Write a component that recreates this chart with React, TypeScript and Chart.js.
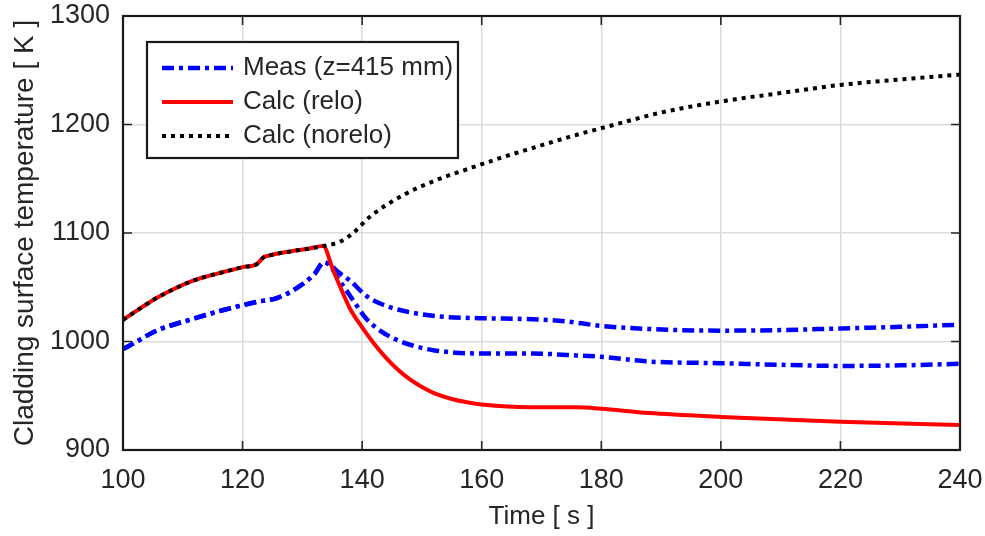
import React, { useEffect, useRef } from "react";
import { Chart, registerables } from "chart.js";

Chart.register(...registerables);

// ---- data ----
const measUpperTime = [100, 102, 105.6, 111.2, 116.8, 122.4, 125.7, 129, 132, 133.6, 134.6, 136, 138, 140.7, 143, 146.3, 150, 153, 159.7, 168.6, 174.2, 179.8, 188.1, 199.8, 210, 219.9, 230, 240];
const measUpperTemp = [993, 999, 1010, 1020, 1029, 1036.5, 1040, 1049, 1062, 1073, 1071, 1064, 1056, 1042, 1035, 1029, 1025, 1023, 1021.5, 1020.5, 1018.5, 1014.5, 1011.5, 1010, 1010.5, 1012, 1013.5, 1015.5];

const measLowerTime = [100, 102, 105.6, 111.2, 116.8, 122.4, 125.7, 129, 132, 133.6, 134.6, 136, 138, 140.7, 143, 145.2, 148, 151.9, 159.7, 168.6, 174.2, 179.8, 188.1, 199.8, 210, 219.9, 230, 240];
const measLowerTemp = [993, 999, 1010, 1020, 1029, 1036.5, 1040, 1049, 1062, 1073, 1070, 1058, 1042, 1021, 1010, 1003, 997, 992, 989, 989, 987.6, 986, 981.5, 980, 978.5, 977.5, 978, 979.5];

const reloTime = [100, 103, 105.6, 108, 111.2, 114, 116.8, 120, 122.4, 123.5, 125, 128, 131, 133.5, 135, 136.5, 138, 140, 142, 144, 146, 148, 150, 152, 155, 158, 160, 168, 176, 180, 188, 200, 220, 240];
const reloTemp = [1020, 1031, 1040, 1047, 1055, 1060, 1064, 1068.5, 1071.5, 1077.5, 1080, 1083, 1085.5, 1088, 1068, 1048, 1030, 1013, 998, 985, 974, 965, 958, 952.5, 947, 943.5, 942, 939.5, 939.5, 938, 934, 930.5, 926, 923];

const noreloTime = [100, 103, 105.6, 108, 111.2, 114, 116.8, 120, 122.4, 123.5, 125, 128, 131, 133.5, 136.3, 138.5, 141.3, 146.9, 152.5, 158, 163.6, 169.2, 174.8, 182, 190, 199.8, 210, 219.9, 230, 240];
const noreloTemp = [1020, 1031, 1040, 1047, 1055, 1060, 1064, 1068.5, 1071.5, 1077.5, 1080, 1083, 1085.5, 1088, 1092, 1100, 1115, 1135, 1149, 1159.6, 1170, 1179.5, 1188.8, 1199.5, 1211, 1221, 1229, 1236.4, 1241.5, 1246];

const xTickValues = [100, 120, 140, 160, 180, 200, 220, 240];
const yTickValues = [900, 1000, 1100, 1200, 1300];

const legendLabels = ["Meas (z=415 mm)", "Calc (relo)", "Calc (norelo)"];

const FONT = '"Liberation Sans", Arial, Helvetica, sans-serif';
const TEXT = "#262626";

const toPts = (t: number[], v: number[]) => t.map((x, i) => ({ x, y: v[i] }));

const frameTicksPlugin = {
  id: "frameTicks",
  beforeDatasetsDraw(chart: any) {
    const { ctx, chartArea } = chart;
    const { left, right, top, bottom } = chartArea;
    const xs = chart.scales.x;
    const ys = chart.scales.y;
    const len = 9;
    ctx.save();
    ctx.strokeStyle = TEXT;
    ctx.lineWidth = 1.6;
    ctx.beginPath();
    xTickValues.forEach((v) => {
      const px = xs.getPixelForValue(v);
      ctx.moveTo(px, bottom);
      ctx.lineTo(px, bottom - len);
      ctx.moveTo(px, top);
      ctx.lineTo(px, top + len);
    });
    yTickValues.forEach((v) => {
      const py = ys.getPixelForValue(v);
      ctx.moveTo(left, py);
      ctx.lineTo(left + len, py);
      ctx.moveTo(right, py);
      ctx.lineTo(right - len, py);
    });
    ctx.stroke();
    ctx.restore();
  },
  afterDatasetsDraw(chart: any) {
    const { ctx, chartArea } = chart;
    const { left, right, top, bottom } = chartArea;
    ctx.save();
    ctx.strokeStyle = "#1a1a1a";
    ctx.lineWidth = 2.2;
    ctx.strokeRect(left, top, right - left, bottom - top);
    ctx.restore();
  },
};

const legendPlugin = {
  id: "boxLegend",
  afterDraw(chart: any) {
    const { ctx } = chart;
    const boxL = 147, boxT = 42, boxW = 311, boxH = 116;
    const rows = [68, 102, 136];
    const ds = [chart.data.datasets[0], chart.data.datasets[2], chart.data.datasets[3]];
    ctx.save();
    ctx.fillStyle = "#ffffff";
    ctx.fillRect(boxL, boxT, boxW, boxH);
    ctx.strokeStyle = "#1a1a1a";
    ctx.lineWidth = 2.2;
    ctx.strokeRect(boxL, boxT, boxW, boxH);
    ds.forEach((d: any, i: number) => {
      ctx.save();
      ctx.strokeStyle = d.borderColor;
      ctx.lineWidth = d.borderWidth;
      ctx.setLineDash(d.borderDash || []);
      ctx.beginPath();
      ctx.moveTo(162, rows[i]);
      ctx.lineTo(233, rows[i]);
      ctx.stroke();
      ctx.restore();
      ctx.fillStyle = TEXT;
      ctx.font = `26px ${FONT}`;
      ctx.textBaseline = "middle";
      ctx.textAlign = "left";
      ctx.fillText(legendLabels[i], 243, rows[i]);
    });
    ctx.restore();
  },
};

export default function App() {
  const ref = useRef<HTMLCanvasElement | null>(null);
  useEffect(() => {
    if (!ref.current) return;
    const measStyle = {
      borderColor: "#0000ff",
      borderWidth: 4.5,
      borderDash: [12, 5, 4, 5],
      pointRadius: 0,
      fill: false,
      cubicInterpolationMode: "monotone" as const,
    };
    const chart = new Chart(ref.current, {
      type: "line",
      data: {
        datasets: [
          { label: legendLabels[0], data: toPts(measUpperTime, measUpperTemp), ...measStyle, order: 2 },
          { label: "", data: toPts(measLowerTime, measLowerTemp), ...measStyle, order: 3 },
          {
            label: legendLabels[1],
            data: toPts(reloTime, reloTemp),
            borderColor: "#ff0000",
            borderWidth: 4,
            pointRadius: 0,
            fill: false,
            cubicInterpolationMode: "monotone",
            order: 1,
          },
          {
            label: legendLabels[2],
            data: toPts(noreloTime, noreloTemp),
            borderColor: "#000000",
            borderWidth: 4,
            borderDash: [4, 5],
            pointRadius: 0,
            fill: false,
            cubicInterpolationMode: "monotone",
            order: 0,
          },
        ],
      },
      options: {
        animation: false,
        responsive: false,
        devicePixelRatio: 1,
        layout: { padding: { top: 16, right: 25, left: 0, bottom: 0 } },
        plugins: { legend: { display: false }, tooltip: { enabled: false } },
        scales: {
          x: {
            type: "linear",
            min: 100,
            max: 240,
            afterBuildTicks: (s: any) => {
              s.ticks = xTickValues.map((v) => ({ value: v }));
            },
            afterFit: (s: any) => {
              s.height = 86;
              s.paddingLeft = 0;
              s.paddingRight = 0;
              s.paddingTop = 0;
              s.paddingBottom = 0;
            },
            ticks: {
              color: TEXT,
              font: { family: FONT, size: 27 },
              padding: 14,
              maxRotation: 0,
              callback: (v: any) => String(v),
            },
            grid: { color: "#dcdcdc", lineWidth: 1.5, drawTicks: false },
            border: { display: false },
            title: {
              display: true,
              text: "Time [ s ]",
              color: TEXT,
              font: { family: FONT, size: 26 },
              padding: { top: 0, bottom: 4 },
            },
          },
          y: {
            type: "linear",
            min: 900,
            max: 1300,
            afterBuildTicks: (s: any) => {
              s.ticks = yTickValues.map((v) => ({ value: v }));
            },
            afterFit: (s: any) => {
              s.width = 123;
              s.paddingLeft = 0;
              s.paddingRight = 0;
              s.paddingTop = 0;
              s.paddingBottom = 0;
            },
            ticks: {
              color: TEXT,
              font: { family: FONT, size: 27 },
              padding: 13,
              callback: (v: any) => String(v),
            },
            grid: { color: "#dcdcdc", lineWidth: 1.5, drawTicks: false },
            border: { display: false },
            title: {
              display: true,
              text: "Cladding surface temperature [ K ]",
              color: TEXT,
              font: { family: FONT, size: 28 },
              padding: { top: 8, bottom: 0 },
            },
          },
        },
      },
      plugins: [frameTicksPlugin, legendPlugin],
    });
    return () => chart.destroy();
  }, []);
  return (
    <div style={{ position: "fixed", left: 0, top: 0, width: 985, height: 536, background: "#fff" }}>
      <canvas ref={ref} width={985} height={536} style={{ display: "block" }} />
    </div>
  );
}
